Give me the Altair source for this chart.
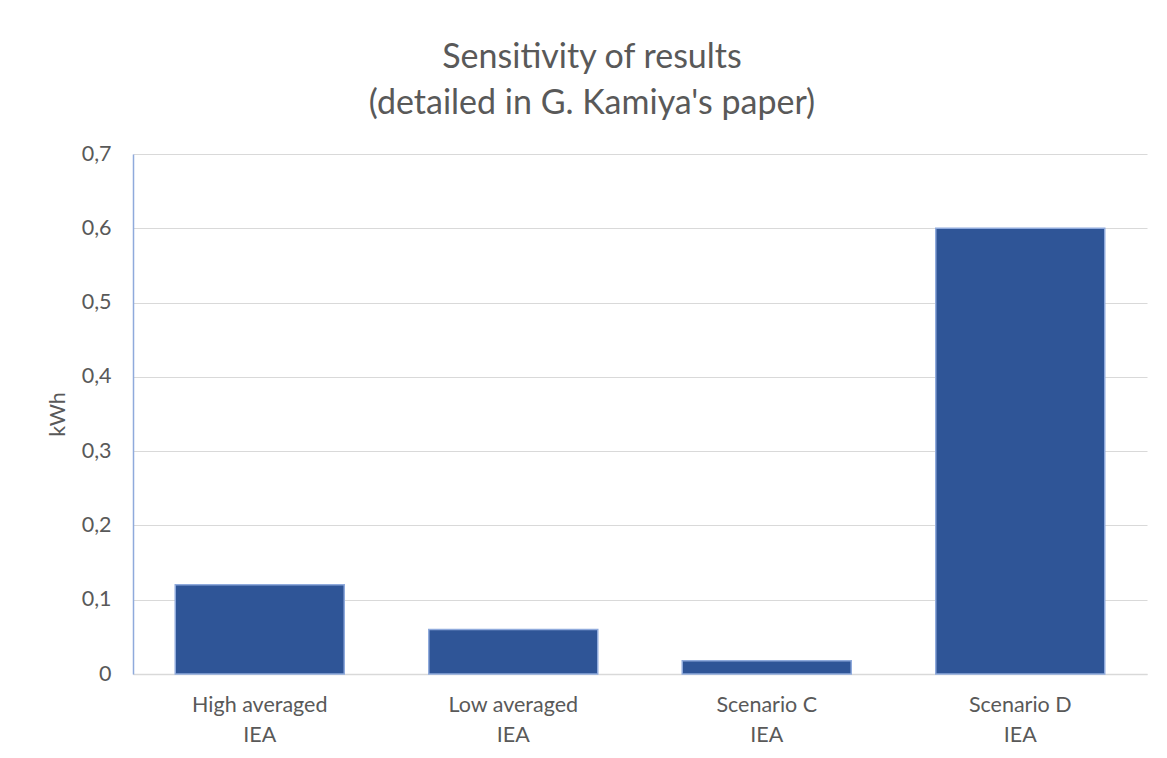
import altair as alt
import pandas as pd

categories = ["High averaged\nIEA", "Low averaged\nIEA", "Scenario C\nIEA", "Scenario D\nIEA"]
values = [0.12, 0.06, 0.018, 0.6]
y_ticks = [0, 0.1, 0.2, 0.3, 0.4, 0.5, 0.6, 0.7]

df = pd.DataFrame({"category": categories, "kWh": values})

FONT = "Lato"
TXT = "#595959"

bars = alt.Chart(df).mark_bar(
    color="#2F5597", stroke="#8FAADC", strokeWidth=1.5
).encode(
    x=alt.X(
        "category:N",
        sort=categories,
        title=None,
        scale=alt.Scale(paddingInner=1/3, paddingOuter=1/6),
        axis=alt.Axis(
            labelExpr="split(datum.label, '\\n')",
            labelAngle=0,
            labelFont=FONT,
            labelFontSize=21.5,
            labelColor=TXT,
            labelLineHeight=30,
            labelPadding=20,
            ticks=False,
            domainColor="#D9D9D9",
            domainWidth=1.5,
        ),
    ),
    y=alt.Y(
        "kWh:Q",
        title="kWh",
        scale=alt.Scale(domain=[0, 0.7], nice=False),
        axis=alt.Axis(
            values=y_ticks,
            labelExpr="datum.value == 0 ? '0' : replace(format(datum.value, '.1f'), '.', ',')",
            labelFont=FONT,
            labelFontSize=21.5,
            labelColor=TXT,
            labelPadding=22,
            ticks=False,
            domainColor="#8FAADC",
            domainWidth=1.5,
            gridColor="#D9D9D9",
            gridWidth=1.2,
            titleFont=FONT,
            titleFontSize=21.5,
            titleFontWeight="normal",
            titleColor=TXT,
            titlePadding=12,
        ),
    ),
)

chart = bars.properties(
    width=1014,
    height=520,
    title=alt.TitleParams(
        text=["Sensitivity of results", "(detailed in G. Kamiya's paper)"],
        font=FONT,
        fontSize=34,
        fontWeight="normal",
        color=TXT,
        lineHeight=46,
        offset=22,
        dx=-48,
        anchor="middle",
    ),
    autosize=alt.AutoSizeParams(type="none"),
    padding={"left": 125, "top": 146, "right": 12, "bottom": 82},
    background="white",
).configure_view(stroke=None)

chart.save("out.html", embed_options={"renderer": "svg", "actions": False})
